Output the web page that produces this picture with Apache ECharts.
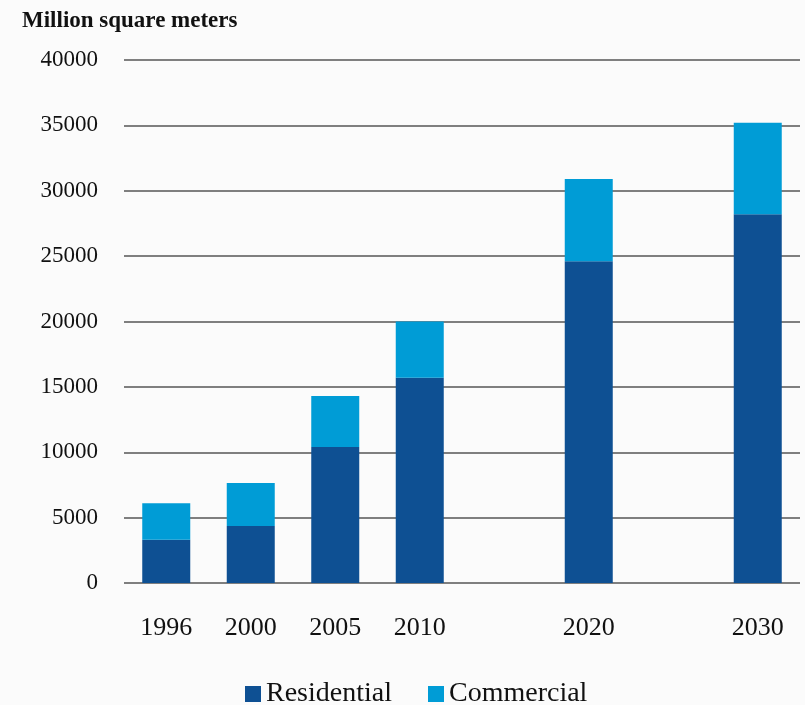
<!DOCTYPE html>
<html><head><meta charset="utf-8">
<script src="https://cdn.jsdelivr.net/npm/echarts@6/dist/echarts.min.js"></script>
<style>html,body{margin:0;padding:0;background:#fbfbfb;}#c{width:805px;height:705px;}</style>
</head><body><div id="c"></div>
<script>
const categories = ['1996','2000','2005','2010','2015','2020','2025','2030'];
const shownLabels = ['1996','2000','2005','2010','','2020','','2030'];
const residential = [3300, 4350, 10400, 15700, null, 24600, null, 28200];
const commercial = [2800, 3300, 3900, 4300, null, 6300, null, 7000];
const yTicks = [0, 5000, 10000, 15000, 20000, 25000, 30000, 35000, 40000];
const FONT = '"Liberation Serif", "DejaVu Serif", serif';
const chart = echarts.init(document.getElementById('c'), null, {renderer:'canvas'});
chart.setOption({
  backgroundColor: '#fbfbfb',
  animation: false,
  title: {text: 'Million square meters', left: 17, top: 5,
    textStyle: {fontFamily: FONT, fontWeight: 'bold', fontSize: 23, color: '#111'}},
  legend: {bottom: -8, left: 240, itemWidth: 16, itemHeight: 16, itemGap: 36,
    icon: 'rect', textStyle: {fontFamily: FONT, fontSize: 28, color: '#111'},
    data: ['Residential', 'Commercial']},
  grid: {left: 124, right: 5, top: 60, bottom: 122},
  xAxis: {type: 'category', data: categories,
    axisLine: {show: false}, axisTick: {show: false},
    axisLabel: {margin: 32, fontFamily: FONT, fontSize: 26, color: '#111',
      formatter: (v, i) => shownLabels[i]}},
  yAxis: {type: 'value', min: yTicks[0], max: yTicks[yTicks.length-1], interval: 5000,
    axisLine: {show: false}, axisTick: {show: false},
    splitLine: {lineStyle: {color: '#7f7f7f', width: 2}},
    axisLabel: {margin: 26, fontFamily: FONT, fontSize: 23, color: '#111',
      formatter: v => String(v)}},
  series: [
    {name: 'Residential', type: 'bar', stack: 't', data: residential, barWidth: 48,
      itemStyle: {color: '#0e5093'}},
    {name: 'Commercial', type: 'bar', stack: 't', data: commercial, barWidth: 48,
      itemStyle: {color: '#009cd6'}}
  ]
});
</script></body></html>
